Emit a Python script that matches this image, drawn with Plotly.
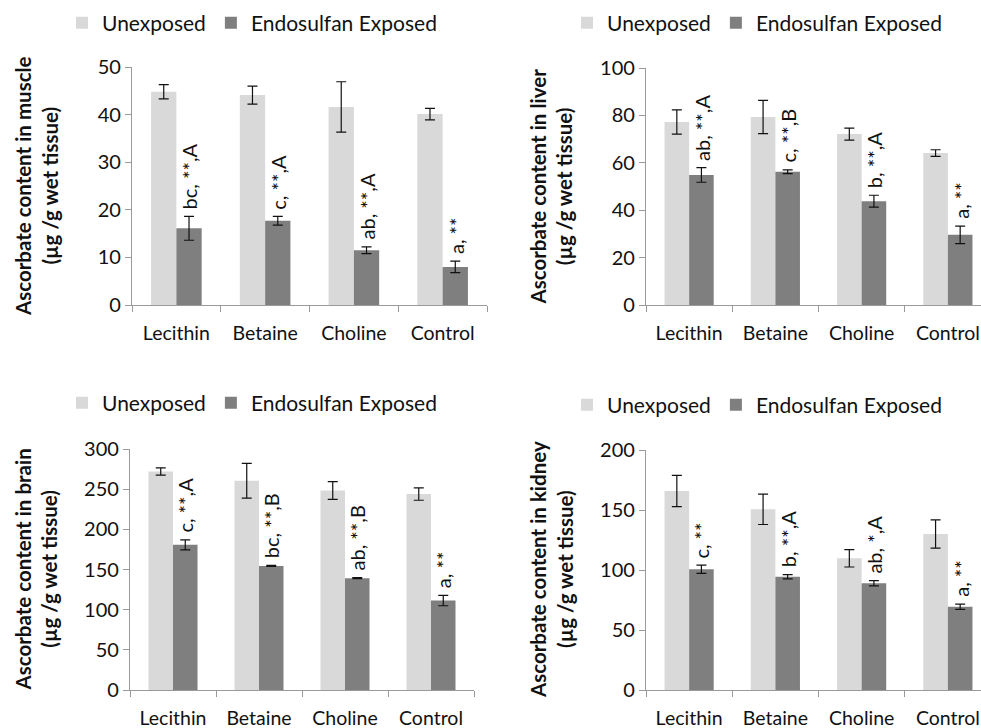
import plotly.graph_objects as go

categories = ["Lecithin", "Betaine", "Choline", "Control"]

# Ascorbate content (µg/g wet tissue), mean and error for each tissue
muscle_unexposed = [44.8, 44.1, 41.6, 40.1]
muscle_unexposed_err = [1.5, 1.9, 5.3, 1.2]
muscle_exposed = [16.1, 17.7, 11.5, 8.0]
muscle_exposed_err = [2.5, 0.9, 0.7, 1.2]
muscle_labels = ["bc, **,A", "c, **,A", "ab, **,A", "a, **"]

liver_unexposed = [77.2, 79.3, 72.1, 64.1]
liver_unexposed_err = [5.1, 7.0, 2.5, 1.4]
liver_exposed = [54.9, 56.2, 43.8, 29.6]
liver_exposed_err = [3.1, 0.8, 2.5, 3.7]
liver_labels = ["ab, **,A", "c, **,B", "b, **,A", "a, **"]

brain_unexposed = [272.0, 260.5, 248.4, 243.9]
brain_unexposed_err = [4.6, 21.6, 11.0, 7.7]
brain_exposed = [180.7, 154.5, 139.2, 111.3]
brain_exposed_err = [6.2, 0.6, 0.6, 6.4]
brain_labels = ["c, **,A", "bc, **,B", "ab, **,B", "a, **"]

kidney_unexposed = [165.8, 150.6, 109.7, 130.0]
kidney_unexposed_err = [13.0, 12.7, 7.2, 11.8]
kidney_exposed = [100.6, 94.4, 88.9, 69.4]
kidney_exposed_err = [3.4, 1.8, 2.2, 2.2]
kidney_labels = ["c, **", "b, **,A", "ab, *,A", "a, **"]

FONT = "Lato"
LABEL_FONT = "Lato, 'DejaVu Sans', sans-serif"
TEXT = "#111111"
LIGHT = "#d9d9d9"
DARK = "#7f7f7f"
AXIS_GREY = "#9a9a9a"
BARGAP = 0.43

W, H = 981, 728

panels = [
    dict(name="muscle", unexp=muscle_unexposed, unexp_err=muscle_unexposed_err,
         exp=muscle_exposed, exp_err=muscle_exposed_err, labels=muscle_labels,
         ymax=50, dtick=10, x0=132, x1=487, ytop=67, ybot=305,
         legend_y=23, legend_x=62, title_x=36),
    dict(name="liver", unexp=liver_unexposed, unexp_err=liver_unexposed_err,
         exp=liver_exposed, exp_err=liver_exposed_err, labels=liver_labels,
         ymax=100, dtick=20, x0=646, x1=991, ytop=68, ybot=305,
         legend_y=23, legend_x=567, title_x=551),
    dict(name="brain", unexp=brain_unexposed, unexp_err=brain_unexposed_err,
         exp=brain_exposed, exp_err=brain_exposed_err, labels=brain_labels,
         ymax=300, dtick=50, x0=130, x1=474, ytop=449, ybot=690,
         legend_y=403, legend_x=62, title_x=36),
    dict(name="kidney", unexp=kidney_unexposed, unexp_err=kidney_unexposed_err,
         exp=kidney_exposed, exp_err=kidney_exposed_err, labels=kidney_labels,
         ymax=200, dtick=50, x0=646, x1=991, ytop=450, ybot=690,
         legend_y=405, legend_x=567, title_x=551),
]

fig = go.Figure()
annotations = []
layout = {}

for i, p in enumerate(panels, start=1):
    sfx = "" if i == 1 else str(i)
    xa, ya = "x" + sfx, "y" + sfx
    leg = "legend" + sfx

    fig.add_trace(go.Bar(
        x=categories, y=p["unexp"], name="Unexposed",
        marker=dict(color=LIGHT, line=dict(width=0)),
        error_y=dict(type="data", array=p["unexp_err"], color="#111111",
                     thickness=1.2, width=5),
        xaxis=xa, yaxis=ya, legend=leg,
    ))
    fig.add_trace(go.Bar(
        x=categories, y=p["exp"], name="Endosulfan Exposed",
        marker=dict(color=DARK, line=dict(width=0)),
        error_y=dict(type="data", array=p["exp_err"], color="#111111",
                     thickness=1.2, width=5),
        xaxis=xa, yaxis=ya, legend=leg,
    ))

    # category span in pixels; the right-hand panels run past the page edge
    span = (p["x1"] - p["x0"]) / 4.0
    x_end = min(p["x1"], W)
    dom = [p["x0"] / W, x_end / W]
    xr = [-0.5, -0.5 + (x_end - p["x0"]) / span]

    layout["xaxis" + sfx] = dict(
        domain=dom, anchor=ya, type="category", range=xr,
        showline=True, linecolor=AXIS_GREY, linewidth=1.3,
        ticks="outside", tickson="boundaries", ticklen=6, tickcolor=AXIS_GREY,
        ticklabelstandoff=10,
        tickfont=dict(family=FONT, size=19.5, color=TEXT),
        showgrid=False, zeroline=False, fixedrange=True,
    )
    layout["yaxis" + sfx] = dict(
        domain=[1 - p["ybot"] / H, 1 - p["ytop"] / H], anchor=xa,
        range=[0, p["ymax"]], dtick=p["dtick"],
        showline=True, linecolor=AXIS_GREY, linewidth=1.3,
        ticks="outside", ticklen=6, tickcolor=AXIS_GREY,
        tickfont=dict(family=FONT, size=20, color=TEXT),
        showgrid=False, zeroline=False, fixedrange=True,
    )
    layout[leg] = dict(
        orientation="h", x=p["legend_x"] / W, xanchor="left",
        y=1 - p["legend_y"] / H, yanchor="middle",
        font=dict(family=FONT, size=21, color=TEXT),
        bgcolor="rgba(0,0,0,0)", itemwidth=30, traceorder="normal",
    )

    # axis title, two lines
    annotations.append(dict(
        xref="paper", yref="paper", x=p["title_x"] / W,
        y=1 - (p["ytop"] + p["ybot"]) / 2 / H,
        text=f"Ascorbate content in {p['name']}<br>(µg /g wet tissue)",
        textangle=-90, showarrow=False, xanchor="center", yanchor="middle",
        font=dict(family=FONT, size=20.5, color=TEXT, weight="bold"),
    ))

    # significance letters over the exposed bars
    offset = (1 - BARGAP) / 4.0
    for j, lab in enumerate(p["labels"]):
        annotations.append(dict(
            xref=xa, yref=ya, x=j + offset, y=p["exp"][j] + p["exp_err"][j],
            text=lab, textangle=-90, showarrow=False,
            xanchor="center", yanchor="bottom", yshift=5,
            font=dict(family=LABEL_FONT, size=20, color=TEXT),
        ))

fig.update_layout(
    width=W, height=H,
    margin=dict(l=0, r=0, t=0, b=0, autoexpand=False),
    paper_bgcolor="white", plot_bgcolor="white",
    barmode="group", bargap=BARGAP, bargroupgap=0,
    annotations=annotations,
    **layout,
)

fig.write_html("out.html", config={"displayModeBar": False})
